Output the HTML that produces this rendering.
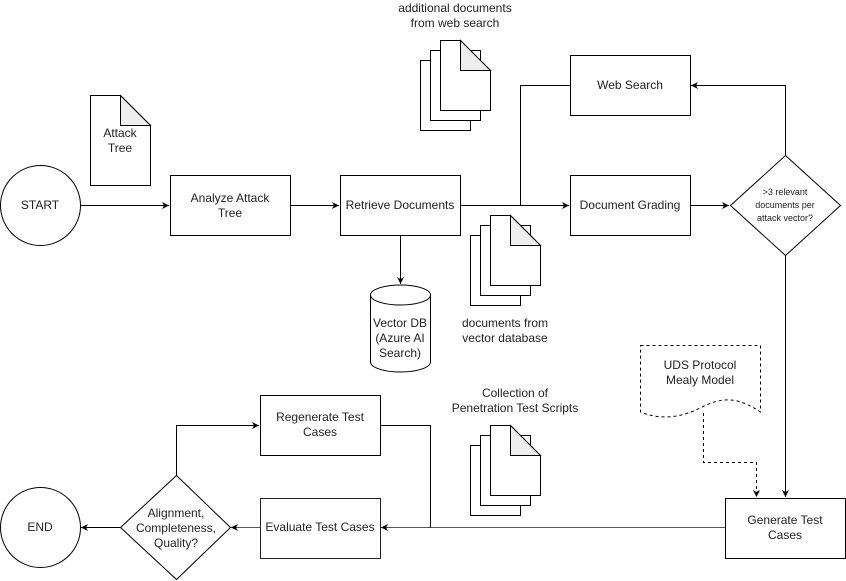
<!DOCTYPE html>
<html><head><meta charset="utf-8"><style>
html,body{margin:0;padding:0;background:#fff;}
svg{display:block;}
text{font-family:"Liberation Sans",sans-serif;font-size:12px;fill:#222;}
</style></head><body>
<svg width="846" height="581" viewBox="0 0 846 581" xmlns="http://www.w3.org/2000/svg">
<defs>
<marker id="a" markerWidth="8" markerHeight="8" refX="7" refY="4" orient="auto" markerUnits="userSpaceOnUse">
<path d="M0,0.5 L7,4 L0,7.5 L2,4 Z" fill="#000"/>
</marker>
<g id="doc">
<path d="M0,0 H20 L50,30 V70 H0 Z" fill="#fff" stroke="#000"/>
<path d="M20,0 V30 H50 Z" fill="#eee" stroke="#000"/>
</g>
<g id="page"><rect width="50" height="70" fill="#fff" stroke="#000"/></g>
<g id="stack">
<use href="#page" x="0" y="20"/>
<use href="#page" x="10" y="10"/>
<use href="#doc" x="20" y="0"/>
</g>
</defs>
<g fill="none" stroke="#000" stroke-width="1">
<path d="M80.5,205.5 H169" marker-end="url(#a)"/>
<path d="M290.5,205.5 H339" marker-end="url(#a)"/>
<path d="M460.5,205.5 H569" marker-end="url(#a)"/>
<path d="M520.5,205.5 V85.5 H570"/>
<path d="M400.5,235 V284" marker-end="url(#a)"/>
<path d="M690.5,205.5 H729" marker-end="url(#a)"/>
<path d="M785.5,155 V85.5 H691" marker-end="url(#a)"/>
<path d="M785.5,255 V497" marker-end="url(#a)"/>
<path d="M703.5,413 V462.5 H756.5 V497" stroke-dasharray="3,3" marker-end="url(#a)"/>
<path d="M725,527.5 H381" stroke="#555" marker-end="url(#a)"/>
<path d="M380,425.5 H430.5 V527.5"/>
<path d="M260,527.5 H231" stroke="#555" marker-end="url(#a)"/>
<path d="M176.5,475 V425.5 H259" marker-end="url(#a)"/>
<path d="M120,527.5 H81" marker-end="url(#a)"/>
</g>
<g fill="#fff" stroke="#000">
<circle cx="40.5" cy="205.5" r="40"/>
<circle cx="40.5" cy="527.5" r="40"/>
<rect x="170.5" y="175.5" width="120" height="60"/>
<rect x="340.5" y="175.5" width="120" height="60"/>
<rect x="570.5" y="55.5" width="120" height="60"/>
<rect x="570.5" y="175.5" width="120" height="60"/>
<rect x="725.5" y="498.5" width="120" height="60"/>
<rect x="260.5" y="395.5" width="120" height="60"/>
<rect x="260.5" y="498.5" width="120" height="60" stroke="#222"/>
<path d="M785.5,155.5 L840.5,205.5 L785.5,255.5 L730.5,205.5 Z"/>
<path d="M176.5,475.5 L230.5,527.5 L176.5,579.5 L120.5,527.5 Z"/>
<path d="M370.5,295 V362 A30,10 0 0 0 430.5,362 V295 A30,10 0 0 0 370.5,295 Z"/>
<path d="M370.5,295 A30,10 0 0 0 430.5,295" fill="none"/>
<path d="M640.5,345.5 H760.5 V412 C735,395 720,398 700,408 C680,418 660,420 640.5,412 Z" stroke-dasharray="3,3"/>
<path d="M90.5,95.5 H120.5 L150.5,125.5 V185.5 H90.5 Z"/>
<path d="M120.5,95.5 V125.5 H150.5 Z" fill="#eee"/>
</g>
<use href="#stack" x="420.5" y="40.5"/>
<use href="#stack" x="470.5" y="215.5"/>
<use href="#stack" x="470.5" y="425.5"/>
<g text-anchor="middle">
<text x="40" y="209">START</text>
<text x="40" y="531">END</text>
<text x="230" y="202">Analyze Attack</text><text x="230" y="217">Tree</text>
<text x="400" y="209">Retrieve Documents</text>
<text x="630" y="89">Web Search</text>
<text x="630" y="209">Document Grading</text>
<text x="785" y="524">Generate Test</text><text x="785" y="539">Cases</text>
<text x="320" y="421">Regenerate Test</text><text x="320" y="436">Cases</text>
<text x="320" y="531">Evaluate Test Cases</text>
<text x="120" y="137">Attack</text><text x="120" y="152">Tree</text>
<text x="400" y="327">Vector DB</text><text x="400" y="342">(Azure AI</text><text x="400" y="357">Search)</text>
<text x="455" y="12">additional documents</text><text x="455" y="27">from web search</text>
<text x="505" y="327">documents from</text><text x="505" y="342">vector database</text>
<text x="515" y="397">Collection of</text><text x="515" y="412">Penetration Test Scripts</text>
<text x="700" y="369">UDS Protocol</text><text x="700" y="384">Mealy Model</text>
<text x="176" y="517">Alignment,</text><text x="176" y="532">Completeness,</text><text x="176" y="547">Quality?</text>
<text x="785" y="195" style="font-size:9px">&gt;3 relevant</text><text x="785" y="208" style="font-size:9px">documents per</text><text x="785" y="221" style="font-size:9px">attack vector?</text>
</g>
</svg>
</body></html>
